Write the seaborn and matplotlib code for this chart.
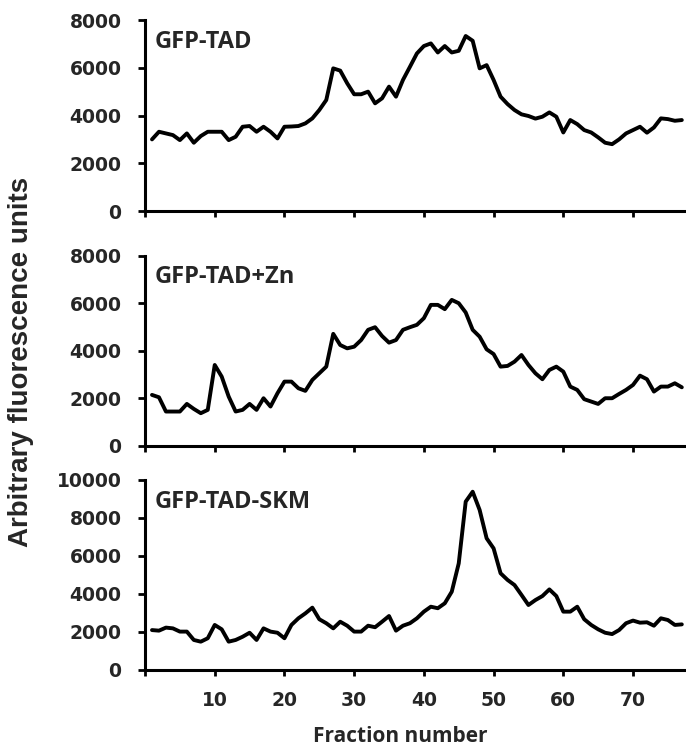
import numpy as np
import pandas as pd
import seaborn as sns
import matplotlib.pyplot as plt

#### Data

fraction = np.arange(1, 78)

gfp_tad = [3000, 3320, 3250, 3180, 2970, 3250, 2860, 3140, 3320, 3320,
           3320, 2970, 3110, 3530, 3560, 3320, 3530, 3320, 3040, 3530,
           3540, 3560, 3670, 3880, 4230, 4650, 5975, 5880, 5350, 4890,
           4890, 5000, 4510, 4720, 5210, 4790, 5490, 6040, 6600, 6910,
           7020, 6640, 6910, 6640, 6710, 7330, 7130, 5975, 6110, 5490,
           4790, 4480, 4230, 4050, 3980, 3870, 3950, 4130, 3950, 3290,
           3810, 3640, 3390, 3290, 3085, 2860, 2800, 3000, 3250, 3390,
           3530, 3280, 3500, 3880, 3850, 3780, 3810]

gfp_tad_zn = [2150, 2050, 1450, 1450, 1450, 1770, 1560, 1380, 1520, 3410,
              2920, 2080, 1450, 1520, 1770, 1520, 2010, 1660, 2220, 2710,
              2710, 2430, 2320, 2780, 3060, 3340, 4720, 4250, 4110, 4180,
              4460, 4890, 5000, 4630, 4350, 4460, 4890, 5000, 5100, 5380,
              5940, 5940, 5760, 6150, 6010, 5620, 4890, 4600, 4070, 3870,
              3340, 3370, 3550, 3830, 3410, 3060, 2810, 3200, 3340, 3130,
              2500, 2360, 1970, 1870, 1770, 2010, 2010, 2190, 2360, 2570,
              2960, 2810, 2290, 2500, 2500, 2640, 2470]

gfp_tad_skm = [2100, 2070, 2230, 2190, 2020, 2020, 1580, 1490, 1670, 2370,
               2140, 1490, 1580, 1750, 1960, 1580, 2190, 2020, 1960, 1670,
               2370, 2720, 2980, 3280, 2670, 2460, 2190, 2540, 2330, 2020,
               2020, 2330, 2250, 2540, 2840, 2070, 2330, 2460, 2720, 3070,
               3330, 3250, 3510, 4120, 5610, 8860, 9380, 8420, 6930, 6400,
               5090, 4740, 4470, 3950, 3420, 3680, 3890, 4240, 3890, 3070,
               3070, 3330, 2670, 2370, 2140, 1960, 1890, 2100, 2460, 2600,
               2490, 2510, 2330, 2720, 2630, 2370, 2400]

panel_names = ["GFP-TAD", "GFP-TAD+Zn", "GFP-TAD-SKM"]
panel_top = [8000, 8000, 10000]
x_ticks = [0, 10, 20, 30, 40, 50, 60, 70]

#### Plot

sns.set_style("ticks")
plt.rcParams['font.family'] = ['DejaVu Sans']
plt.rcParams['font.weight'] = 'bold'

fig = plt.figure(figsize=(6.86, 7.55), dpi=100, facecolor="white")

rects = [[0.2114, 0.7205, 0.7886, 0.2530],
         [0.2114, 0.4093, 0.7886, 0.2517],
         [0.2114, 0.1126, 0.7886, 0.2517]]

series = [gfp_tad, gfp_tad_zn, gfp_tad_skm]

for n, (rect, vals, name, top) in enumerate(zip(rects, series, panel_names, panel_top)):
    ax = fig.add_axes(rect)
    df = pd.DataFrame({'fraction': fraction, 'signal': vals})
    sns.lineplot(data=df, x='fraction', y='signal', ax=ax,
                 color='black', linewidth=2.8)
    ax.set_xlim(0, 77.6)
    ax.set_ylim(0, top)
    yt = list(range(0, top + 1, 2000))
    ax.set_yticks(yt)
    ax.set_yticklabels([str(v) for v in yt], fontsize=13.5, fontweight='bold')
    ax.set_xticks(x_ticks)
    if n == 2:
        ax.set_xticklabels([''] + [str(v) for v in x_ticks[1:]],
                           fontsize=13.5, fontweight='bold')
    else:
        ax.set_xticklabels([])
    ax.set_xlabel('')
    ax.set_ylabel('')
    sns.despine(ax=ax)
    for s in ['left', 'bottom']:
        ax.spines[s].set_linewidth(2.2)
        ax.spines[s].set_color('black')
    ax.tick_params(axis='y', length=5, width=2, color='black', pad=12)
    ax.tick_params(axis='x', length=4, width=2, color='black', pad=11)
    ax.text(0.017, 0.855, name, transform=ax.transAxes,
            family='Open Sans', fontweight='bold', fontsize=17,
            va='baseline', ha='left')

fig.text(0.031, 0.52, "Arbitrary fluorescence units", rotation=90,
         family='Liberation Sans', fontweight='bold', fontsize=20,
         ha='center', va='center')
fig.text(0.583, 0.025, "Fraction number",
         family='Open Sans', fontweight='bold', fontsize=15,
         ha='center', va='center')

fig.savefig('out.png', dpi=100)
